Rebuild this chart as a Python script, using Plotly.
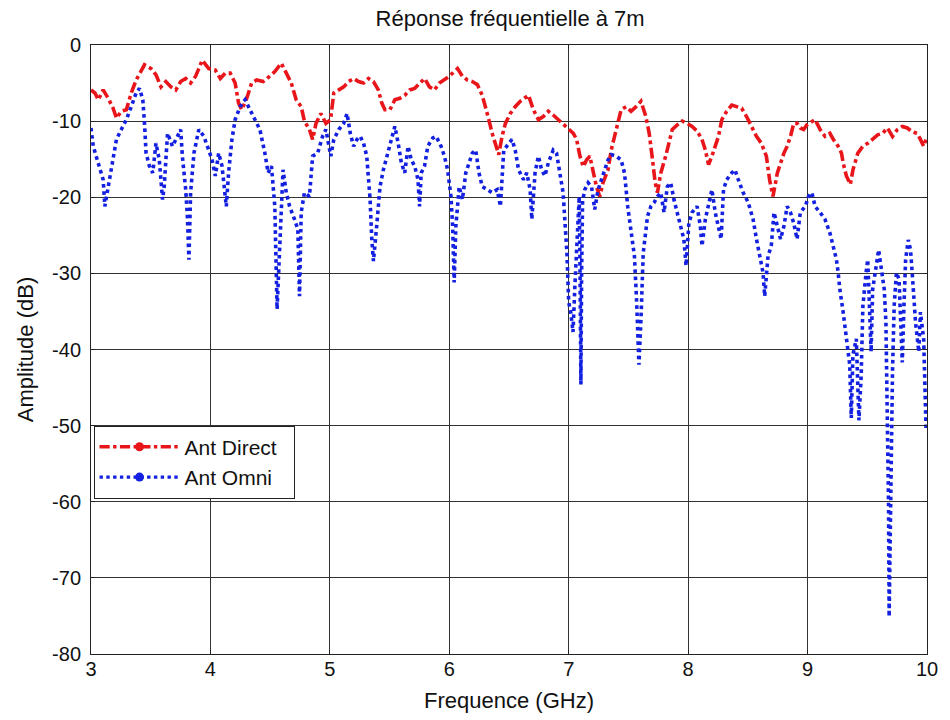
import plotly.graph_objects as go

# Measured frequency response at 7 m, directive antenna
freq_direct = [
    3.000, 3.033, 3.061, 3.102, 3.144, 3.185, 3.213, 3.254, 3.296, 3.337,
    3.378, 3.406, 3.448, 3.503, 3.544, 3.586, 3.627, 3.669, 3.710, 3.751,
    3.793, 3.834, 3.876, 3.903, 3.931, 3.986, 4.041, 4.083, 4.124, 4.166,
    4.207, 4.235, 4.262, 4.304, 4.345, 4.387, 4.442, 4.497, 4.539, 4.594,
    4.635, 4.677, 4.718, 4.760, 4.787, 4.829, 4.856, 4.884, 4.925, 4.967,
    5.006, 5.033, 5.075, 5.116, 5.157, 5.199, 5.240, 5.282, 5.323, 5.365,
    5.406, 5.434, 5.461, 5.503, 5.544, 5.586, 5.627, 5.669, 5.710, 5.751,
    5.793, 5.834, 5.876, 5.917, 5.959, 6.000, 6.041, 6.069, 6.110, 6.152,
    6.193, 6.235, 6.276, 6.304, 6.331, 6.359, 6.387, 6.414, 6.442, 6.470,
    6.511, 6.552, 6.594, 6.635, 6.663, 6.704, 6.746, 6.787, 6.829, 6.870,
    6.912, 6.953, 6.994, 7.039, 7.066, 7.094, 7.122, 7.149, 7.177, 7.204,
    7.232, 7.260, 7.287, 7.329, 7.356, 7.384, 7.412, 7.439, 7.481, 7.522,
    7.564, 7.605, 7.646, 7.674, 7.702, 7.724, 7.743, 7.771, 7.812, 7.840,
    7.867, 7.909, 7.950, 7.992, 8.033, 8.075, 8.116, 8.144, 8.171, 8.199,
    8.227, 8.254, 8.282, 8.323, 8.365, 8.406, 8.448, 8.489, 8.530, 8.572,
    8.613, 8.655, 8.682, 8.710, 8.747, 8.774, 8.802, 8.829, 8.857, 8.884,
    8.912, 8.939, 8.967, 8.994, 9.036, 9.063, 9.105, 9.146, 9.187, 9.215,
    9.256, 9.284, 9.298, 9.325, 9.358, 9.380, 9.421, 9.463, 9.504, 9.545,
    9.587, 9.628, 9.669, 9.711, 9.752, 9.793, 9.835, 9.876, 9.917, 9.945,
    9.972, 9.992,
]
amp_direct = [
    -5.9, -6.3, -7.2, -5.9, -7.0, -8.3, -9.6, -8.7, -8.5, -6.3,
    -4.6, -3.7, -2.6, -3.1, -3.9, -5.5, -4.8, -5.5, -5.9, -4.8,
    -4.4, -5.0, -4.1, -3.1, -2.0, -3.1, -3.3, -4.4, -3.7, -3.7,
    -5.0, -7.6, -8.5, -7.0, -5.0, -4.6, -4.8, -4.1, -3.5, -2.4,
    -3.7, -5.0, -7.2, -8.1, -10.0, -11.1, -12.4, -10.3, -9.0, -10.3,
    -9.8, -6.3, -5.9, -5.5, -4.8, -4.4, -4.8, -5.0, -4.4, -4.8,
    -5.9, -7.6, -8.5, -8.5, -7.2, -7.0, -6.6, -5.9, -5.7, -5.0,
    -4.4, -5.5, -5.9, -5.0, -4.6, -4.1, -3.5, -3.1, -4.1, -4.6,
    -4.8, -5.2, -6.6, -8.1, -9.8, -11.6, -12.9, -14.4, -12.0, -10.3,
    -9.0, -8.1, -7.4, -7.0, -6.6, -8.5, -9.8, -9.4, -8.7, -9.2,
    -9.8, -10.5, -11.1, -11.6, -12.4, -14.6, -16.0, -15.1, -14.6, -16.4,
    -18.6, -19.9, -18.1, -16.4, -13.8, -12.0, -10.3, -8.5, -8.1, -8.7,
    -8.1, -7.4, -9.4, -11.6, -15.1, -18.1, -19.4, -16.8, -14.6, -12.9,
    -11.1, -10.5, -10.0, -10.3, -10.7, -11.3, -12.4, -13.8, -15.7, -14.6,
    -13.3, -12.0, -9.8, -8.7, -7.9, -8.1, -8.3, -9.4, -10.7, -12.0,
    -12.9, -14.6, -17.7, -19.9, -16.8, -15.5, -14.2, -13.3, -12.0, -10.3,
    -10.3, -10.9, -11.1, -10.5, -10.0, -9.8, -11.1, -12.0, -11.6, -12.4,
    -13.3, -14.2, -15.5, -17.2, -18.3, -16.4, -14.2, -13.3, -12.9, -12.4,
    -11.8, -11.6, -10.9, -12.0, -11.1, -10.7, -10.9, -11.4, -11.6, -12.4,
    -13.3, -12.4,
]

# Measured frequency response at 7 m, omnidirectional antenna
freq_omni = [
    3.000, 3.019, 3.047, 3.075, 3.102, 3.116, 3.144, 3.171, 3.213, 3.254,
    3.296, 3.337, 3.378, 3.406, 3.434, 3.448, 3.461, 3.489, 3.517, 3.544,
    3.572, 3.599, 3.613, 3.641, 3.682, 3.724, 3.751, 3.765, 3.793, 3.807,
    3.820, 3.834, 3.862, 3.903, 3.945, 3.986, 4.014, 4.041, 4.069, 4.097,
    4.133, 4.152, 4.180, 4.207, 4.249, 4.290, 4.331, 4.373, 4.414, 4.456,
    4.483, 4.511, 4.539, 4.558, 4.580, 4.608, 4.635, 4.663, 4.704, 4.732,
    4.746, 4.760, 4.787, 4.829, 4.856, 4.898, 4.939, 4.967, 5.008, 5.033,
    5.075, 5.116, 5.144, 5.171, 5.199, 5.227, 5.254, 5.282, 5.309, 5.323,
    5.337, 5.351, 5.365, 5.392, 5.420, 5.448, 5.489, 5.530, 5.544, 5.572,
    5.599, 5.627, 5.655, 5.682, 5.710, 5.738, 5.751, 5.765, 5.793, 5.820,
    5.862, 5.890, 5.931, 5.959, 5.986, 6.014, 6.028, 6.041, 6.055, 6.083,
    6.110, 6.138, 6.166, 6.193, 6.221, 6.249, 6.276, 6.318, 6.359, 6.401,
    6.428, 6.456, 6.497, 6.525, 6.552, 6.580, 6.622, 6.649, 6.677, 6.691,
    6.718, 6.746, 6.773, 6.801, 6.829, 6.870, 6.898, 6.925, 6.953, 6.985,
    7.000, 7.017, 7.036, 7.052, 7.072, 7.088, 7.095, 7.102, 7.108, 7.116,
    7.135, 7.163, 7.191, 7.218, 7.246, 7.273, 7.301, 7.329, 7.356, 7.398,
    7.439, 7.467, 7.494, 7.522, 7.550, 7.569, 7.588, 7.605, 7.624, 7.660,
    7.688, 7.715, 7.743, 7.771, 7.798, 7.826, 7.854, 7.881, 7.909, 7.936,
    7.964, 7.983, 8.006, 8.033, 8.075, 8.102, 8.116, 8.144, 8.171, 8.199,
    8.227, 8.254, 8.276, 8.296, 8.323, 8.365, 8.392, 8.420, 8.461, 8.503,
    8.544, 8.572, 8.599, 8.627, 8.641, 8.669, 8.696, 8.719, 8.747, 8.774,
    8.802, 8.829, 8.857, 8.884, 8.912, 8.939, 8.981, 9.008, 9.036, 9.063,
    9.105, 9.146, 9.187, 9.215, 9.242, 9.256, 9.270, 9.298, 9.325, 9.353,
    9.366, 9.380, 9.408, 9.430, 9.449, 9.463, 9.490, 9.504, 9.518, 9.532,
    9.545, 9.573, 9.595, 9.614, 9.642, 9.656, 9.669, 9.678, 9.683, 9.697,
    9.711, 9.725, 9.744, 9.766, 9.793, 9.807, 9.821, 9.843, 9.862, 9.876,
    9.904, 9.931, 9.945, 9.972, 9.992,
]
amp_omni = [
    -10.9, -13.3, -14.8, -16.4, -17.7, -21.2, -18.6, -15.9, -12.4, -11.1,
    -9.8, -8.1, -6.3, -5.7, -7.2, -10.3, -14.2, -15.9, -16.8, -12.9,
    -15.1, -20.3, -18.6, -11.6, -13.3, -12.0, -11.1, -14.6, -19.0, -22.5,
    -28.2, -19.4, -14.2, -11.1, -12.0, -13.8, -15.1, -17.2, -14.2, -15.9,
    -21.2, -16.8, -12.4, -9.8, -8.1, -7.2, -8.5, -9.8, -11.1, -14.2,
    -16.8, -15.9, -21.2, -34.7, -25.5, -16.4, -19.4, -21.2, -22.9, -24.2,
    -33.0, -22.0, -19.4, -19.9, -14.6, -14.2, -12.0, -11.1, -14.6, -12.4,
    -11.1, -10.3, -9.0, -11.6, -13.3, -12.4, -12.0, -12.9, -14.6, -17.7,
    -20.3, -25.5, -28.4, -23.8, -18.6, -16.4, -13.8, -11.1, -10.7, -12.9,
    -15.5, -16.8, -13.3, -15.1, -15.9, -17.7, -21.2, -16.8, -15.9, -13.3,
    -12.2, -12.0, -13.3, -14.6, -16.4, -19.9, -23.8, -31.2, -23.8, -18.6,
    -20.3, -16.8, -15.5, -14.2, -13.8, -16.8, -18.6, -19.0, -19.4, -19.0,
    -21.2, -13.8, -12.9, -12.4, -13.8, -16.4, -17.7, -16.8, -19.0, -22.9,
    -16.8, -14.6, -16.4, -17.2, -15.5, -13.8, -14.2, -16.8, -19.4, -27.3,
    -33.8, -35.1, -37.7, -31.6, -25.1, -19.9, -30.0, -44.6, -30.0, -20.5,
    -19.0, -18.1, -18.6, -21.6, -19.0, -17.7, -16.4, -15.1, -14.4, -14.6,
    -15.1, -16.8, -21.2, -24.7, -27.7, -33.8, -42.0, -36.0, -27.3, -22.5,
    -21.2, -20.7, -19.9, -19.4, -22.0, -18.6, -18.1, -20.3, -22.0, -23.8,
    -25.5, -29.0, -23.4, -22.0, -21.2, -23.8, -26.4, -22.9, -20.7, -19.0,
    -22.0, -23.8, -25.5, -19.0, -17.7, -16.8, -16.4, -17.7, -19.4, -20.7,
    -22.9, -25.5, -27.7, -29.9, -33.0, -27.7, -26.4, -22.0, -23.8, -25.5,
    -23.8, -21.2, -22.0, -23.4, -25.5, -22.0, -21.2, -19.9, -19.4, -21.2,
    -22.0, -22.9, -24.7, -26.4, -28.2, -29.9, -32.1, -35.1, -38.6, -42.0,
    -49.0, -40.7, -38.6, -49.3, -43.4, -34.3, -29.9, -28.2, -34.3, -40.3,
    -32.1, -29.0, -26.9, -29.0, -32.1, -36.4, -47.3, -60.3, -75.1, -56.0,
    -43.0, -34.3, -29.9, -30.8, -41.7, -34.3, -28.2, -25.6, -26.9, -29.9,
    -36.4, -40.3, -35.1, -38.6, -50.3,
]

x_ticks = [3, 4, 5, 6, 7, 8, 9, 10]
y_ticks = [0, -10, -20, -30, -40, -50, -60, -70, -80]
y_tick_text = [str(v) for v in y_ticks]

RED = "#e8161b"
BLUE = "#1420e0"
FONT = "Liberation Sans, Arial, sans-serif"
TXT = "#111"
PAD = "\u00a0\u00a0"

fig = go.Figure()

fig.add_trace(go.Scatter(
    x=freq_direct, y=amp_direct, mode="lines",
    line=dict(color=RED, width=3.6, dash="dashdot"),
    showlegend=False,
))
fig.add_trace(go.Scatter(
    x=freq_omni, y=amp_omni, mode="lines",
    line=dict(color=BLUE, width=3.6, dash="dot"),
    showlegend=False,
))

# Legend entries (line style plus marker)
fig.add_trace(go.Scatter(
    x=[None], y=[None], mode="lines+markers", name="Ant Direct" + PAD,
    line=dict(color=RED, width=3.4, dash="dashdot"),
    marker=dict(color=RED, size=9, symbol="circle"),
))
fig.add_trace(go.Scatter(
    x=[None], y=[None], mode="lines+markers", name="Ant Omni" + PAD,
    line=dict(color=BLUE, width=3.4, dash="dot"),
    marker=dict(color=BLUE, size=9, symbol="circle"),
))

axis_common = dict(
    showline=True, linecolor="#222", linewidth=1, mirror="ticks",
    showgrid=True, gridcolor="#333", gridwidth=1,
    zeroline=False, ticks="inside", ticklen=4, tickcolor="#222",
    tickfont=dict(family=FONT, size=20, color=TXT),
)

fig.update_layout(
    width=950, height=720,
    margin=dict(l=91, r=14, t=45, b=62),
    paper_bgcolor="white", plot_bgcolor="white",
    title=dict(
        text="Réponse fréquentielle à 7m",
        font=dict(family=FONT, size=22, color=TXT),
        x=0.537, xanchor="center", y=0.975, yanchor="middle",
    ),
    xaxis=dict(
        range=[3, 10], tickvals=x_ticks, ticklabelstandoff=-3,
        title=dict(text="Frequence (GHz)", font=dict(family=FONT, size=22, color=TXT), standoff=13),
        **axis_common,
    ),
    yaxis=dict(
        range=[-80, 0], tickvals=y_ticks, ticktext=y_tick_text, ticklabelstandoff=5,
        title=dict(text="Amplitude (dB)", font=dict(family=FONT, size=22, color=TXT), standoff=12),
        **axis_common,
    ),
    legend=dict(
        x=0.003, y=0.375, xanchor="left", yanchor="top",
        bgcolor="white", bordercolor="#222", borderwidth=1,
        font=dict(family=FONT, size=21, color=TXT),
        itemwidth=80,
    ),
)

fig.write_html("out.html")
